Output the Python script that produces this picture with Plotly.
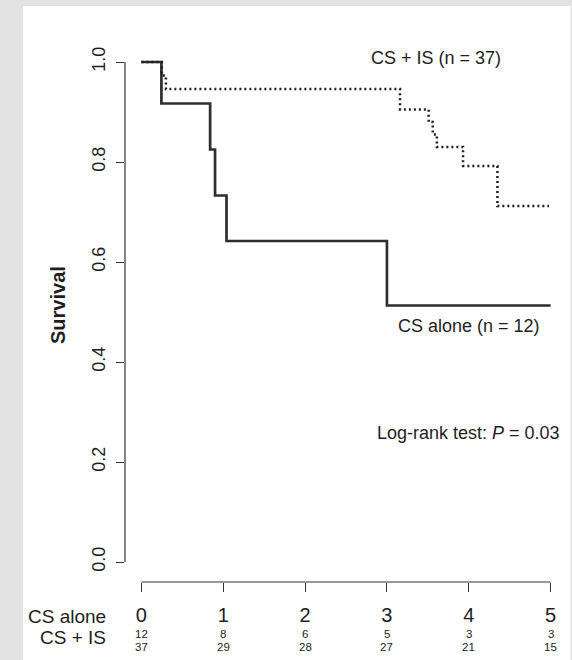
import plotly.graph_objects as go

# ---- data ----
cs_alone_t = [0, 0.245, 0.84, 0.90, 1.04, 3.0, 5.0]
cs_alone_s = [1.0, 0.917, 0.825, 0.733, 0.642, 0.513, 0.513]

cs_is_t = [0, 0.25, 0.30, 3.16, 3.51, 3.56, 3.61, 3.93, 4.35, 4.98]
cs_is_s = [1.0, 0.973, 0.946, 0.905, 0.88, 0.855, 0.83, 0.792, 0.712, 0.712]

time_ticks = [0, 1, 2, 3, 4, 5]
y_ticks = [0.0, 0.2, 0.4, 0.6, 0.8, 1.0]
y_tick_labels = ["0.0", "0.2", "0.4", "0.6", "0.8", "1.0"]
risk_cs_alone = [12, 8, 6, 5, 3, 3]
risk_cs_is = [37, 29, 28, 27, 21, 15]

FONT = "Liberation Sans, Arial, Helvetica, sans-serif"
INK = "#1e1e1e"

# plot area in pixels
W, H = 572, 660
L, R, T, B = 125, 5, 42, 78
pw, ph = W - L - R, H - T - B


def px_x(px):
    return (px - L) / pw


def px_y(py):
    return (H - B - py) / ph


fig = go.Figure()

fig.add_trace(go.Scatter(
    x=cs_alone_t, y=cs_alone_s, mode="lines", line_shape="hv",
    line=dict(color="#2e2e2e", width=2.7), name="CS alone", showlegend=False,
))
fig.add_trace(go.Scatter(
    x=cs_is_t, y=cs_is_s, mode="lines", line_shape="hv",
    line=dict(color="#1e1e1e", width=2.5, dash="2px,3px"), name="CS + IS", showlegend=False,
))

shapes = [
    # white panel on grey page
    dict(type="rect", xref="paper", yref="paper", x0=px_x(23), x1=px_x(570.5),
         y0=px_y(6), y1=px_y(662), fillcolor="white", line=dict(width=0), layer="below"),
    # y axis line (R style, 0..1)
    dict(type="line", xref="paper", yref="y", x0=0, x1=0, y0=0, y1=1,
         line=dict(color="#333333", width=1.2)),
    # x axis line (0..5)
    dict(type="line", xref="x", yref="paper", x0=0, x1=5, y0=0, y1=0,
         line=dict(color="#333333", width=1.2)),
]

annotations = [
    dict(x=3.6, y=1.008, xref="x", yref="y", text="CS + IS (n = 37)", showarrow=False,
         font=dict(size=18, family=FONT, color=INK), xanchor="center", yanchor="middle"),
    dict(x=4.0, y=0.472, xref="x", yref="y", text="CS alone (n = 12)", showarrow=False,
         font=dict(size=18, family=FONT, color=INK), xanchor="center", yanchor="middle"),
    dict(x=4.0, y=0.258, xref="x", yref="y", text="Log-rank test: <i>P</i> = 0.03", showarrow=False,
         font=dict(size=18, family=FONT, color=INK), xanchor="center", yanchor="middle"),
    dict(x=px_x(58), y=px_y(305), xref="paper", yref="paper", text="<b>Survival</b>",
         textangle=-90, showarrow=False, font=dict(size=20, family=FONT, color=INK),
         xanchor="center", yanchor="middle"),
    dict(x=px_x(108), y=px_y(616), xref="paper", yref="paper", text="CS alone",
         showarrow=False, font=dict(size=19, family=FONT, color=INK),
         xanchor="right", yanchor="middle"),
    dict(x=px_x(108), y=px_y(637), xref="paper", yref="paper", text="CS + IS",
         showarrow=False, font=dict(size=19, family=FONT, color=INK),
         xanchor="right", yanchor="middle"),
]

for t, a, b in zip(time_ticks, risk_cs_alone, risk_cs_is):
    annotations.append(dict(x=t, y=px_y(634), xref="x", yref="paper", text=str(a),
                            showarrow=False, font=dict(size=11.5, family=FONT, color=INK),
                            xanchor="center", yanchor="middle"))
    annotations.append(dict(x=t, y=px_y(647), xref="x", yref="paper", text=str(b),
                            showarrow=False, font=dict(size=11.5, family=FONT, color=INK),
                            xanchor="center", yanchor="middle"))

fig.update_layout(
    width=W, height=H,
    margin=dict(l=L, r=R, t=T, b=B, pad=0),
    paper_bgcolor="#e3e3e3",
    plot_bgcolor="rgba(0,0,0,0)",
    shapes=shapes,
    annotations=annotations,
    xaxis=dict(range=[-0.2, 5.2], tickvals=time_ticks, ticktext=[str(t) for t in time_ticks],
               ticks="outside", ticklen=9, tickwidth=1.2, tickcolor="#333333",
               showline=False, showgrid=False, zeroline=False,
               tickfont=dict(size=20, family=FONT, color=INK), ticklabelstandoff=6),
    yaxis=dict(range=[-0.04, 1.04], tickvals=y_ticks, ticktext=y_tick_labels,
               ticks="outside", ticklen=8, tickwidth=1.2, tickcolor="#333333",
               showline=False, showgrid=False, zeroline=False, tickangle=-90,
               tickfont=dict(size=18, family=FONT, color=INK), ticklabelstandoff=4),
)

fig.write_html("out.html")
